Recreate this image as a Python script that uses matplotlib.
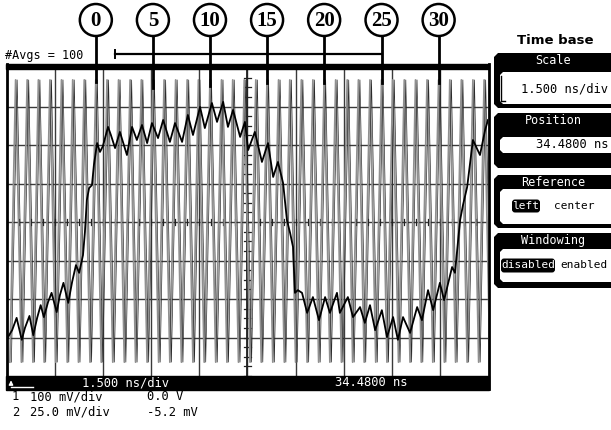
import numpy as np
import matplotlib
matplotlib.use("Agg")
import matplotlib.pyplot as plt
from matplotlib.patches import Circle, Polygon, Rectangle, FancyBboxPatch
from matplotlib import transforms

# time base / vertical settings of the scope
t_left = 34.48          # ns, reference = left
ns_per_div = 1.5
n_xdiv = 10
n_ydiv = 8

# clock trace (channel 1): peak and trough times in ns, levels in divisions
clock_high_ns = [34.75, 35.11, 35.46, 35.82, 36.18, 36.53, 36.89, 37.25, 37.60, 37.96,
                 38.32, 38.67, 39.03, 39.38, 39.74, 40.10, 40.45, 40.81, 41.17, 41.52,
                 41.88, 42.24, 42.59, 42.95, 43.30, 43.66, 44.02, 44.37, 44.73, 45.09,
                 45.44, 45.80, 46.16, 46.51, 46.87, 47.22, 47.58, 47.94, 48.29, 48.65,
                 49.01, 49.36]
clock_low_ns = [34.57, 34.93, 35.29, 35.64, 36.00, 36.36, 36.71, 37.07, 37.42, 37.78,
                38.14, 38.49, 38.85, 39.21, 39.56, 39.92, 40.28, 40.63, 40.99, 41.34,
                41.70, 42.06, 42.41, 42.77, 43.13, 43.48, 43.84, 44.20, 44.55, 44.91,
                45.26, 45.62, 45.98, 46.33, 46.69, 47.05, 47.40, 47.76, 48.12, 48.47,
                48.83, 49.19, 49.54]
clock_high_lvl = 3.69
clock_low_lvl = -3.64

# data trace (channel 2): time in ns, level in divisions
data_t = [34.51, 34.64, 34.78, 34.94, 35.04, 35.18, 35.30, 35.42, 35.53, 35.63,
          35.76, 35.87, 36.03, 36.13, 36.24, 36.39, 36.51, 36.63, 36.73, 36.85,
          36.91, 36.97, 37.04, 37.13, 37.19, 37.29, 37.38, 37.47, 37.63, 37.72,
          37.85, 38.00, 38.22, 38.38, 38.53, 38.69, 38.85, 39.00, 39.19, 39.35,
          39.56, 39.72, 39.94, 40.12, 40.28, 40.50, 40.65, 40.87, 41.03, 41.22,
          41.37, 41.53, 41.75, 41.90, 42.00, 42.21, 42.43, 42.62, 42.78, 42.93,
          43.09, 43.21, 43.31, 43.40, 43.43, 43.46, 43.55, 43.68, 43.84, 44.02,
          44.21, 44.40, 44.55, 44.77, 44.86, 45.11, 45.27, 45.49, 45.64, 45.80,
          45.96, 46.17, 46.33, 46.52, 46.67, 46.83, 47.05, 47.27, 47.42, 47.61,
          47.77, 47.98, 48.11, 48.36, 48.45, 48.61, 48.70, 48.83, 49.01, 49.23,
          49.39, 49.48]
data_v = [-2.99, -2.81, -2.49, -3.06, -2.75, -2.44, -2.94, -2.49, -2.16, -2.47,
          -2.08, -1.84, -2.34, -1.90, -1.58, -2.10, -1.56, -1.12, -1.32, -0.86,
          -0.26, 0.57, 0.88, 0.96, 1.48, 2.05, 1.82, 1.97, 2.47, 2.26,
          1.92, 2.34, 1.74, 2.47, 2.13, 2.52, 2.05, 2.57, 2.18, 2.65,
          2.08, 2.57, 2.08, 2.78, 2.26, 2.99, 2.44, 3.09, 2.60, 3.12,
          2.47, 2.91, 2.21, 2.60, 1.87, 2.34, 1.56, 2.05, 1.17, 1.56,
          1.01, 0.05, -0.29, -0.65, -1.25, -1.84, -1.77, -1.84, -2.36, -1.95,
          -2.55, -1.95, -2.36, -1.84, -2.36, -1.95, -2.47, -2.21, -2.62, -2.16,
          -2.81, -2.29, -2.99, -2.47, -3.06, -2.47, -2.88, -2.21, -2.55, -1.77,
          -2.29, -1.58, -2.03, -1.17, -1.32, 0.05, 0.44, 0.91, 2.13, 1.74,
          2.39, 2.65]

# bit markers above the screen
bit_labels = ["0", "5", "10", "15", "20", "25", "30"]
bit_ns = [37.25, 39.03, 40.81, 42.59, 44.37, 46.16, 47.94]
bit_line_end = [82, 88, 86, 83, 83, 83, 83]   # px
bracket_ns = [37.85, 46.16]

mono = "DejaVu Sans Mono"
W, H = 611, 430
fig = plt.figure(figsize=(W / 100, H / 100), dpi=100)
fig.patch.set_facecolor("white")

# screen graticule, pixel box 7..488 x 68..376
ax = fig.add_axes([7 / W, (H - 376) / H, 481 / W, 308 / H])
ax.set_xlim(t_left, t_left + n_xdiv * ns_per_div)
ax.set_ylim(-n_ydiv / 2, n_ydiv / 2)
ax.set_xticks([t_left + i * ns_per_div for i in range(1, n_xdiv)])
ax.set_yticks(range(-3, 4))
ax.tick_params(length=0, labelbottom=False, labelleft=False)
ax.grid(True, color="#3a3a3a", lw=1.0)
for s in ax.spines.values():
    s.set_visible(False)

t_mid = t_left + n_xdiv * ns_per_div / 2
ax.axvline(t_mid, color="#222222", lw=1.3)
for yy in np.arange(-4, 4.01, 0.25):
    ax.plot([t_mid - 0.1, t_mid + 0.1], [yy, yy], color="#222222", lw=0.9)
for xx in np.arange(t_left, t_left + 15.01, 0.375):
    ax.plot([xx, xx], [-0.08, 0.08], color="#222222", lw=0.9)

# clock: alternate trough / peak
ck_t, ck_v = [], []
for i, lo in enumerate(clock_low_ns):
    ck_t.append(lo)
    ck_v.append(clock_low_lvl)
    if i < len(clock_high_ns):
        ck_t.append(clock_high_ns[i])
        ck_v.append(clock_high_lvl)
ax.plot(ck_t, ck_v, color="#909090", lw=1.3, zorder=3)
shift = transforms.offset_copy(ax.transData, fig=fig, x=1.5, y=0, units="dots")
ax.plot(ck_t, ck_v, color="#2a2a2a", lw=0.5, zorder=3, transform=shift)

ax.plot(data_t, data_v, color="black", lw=1.3, zorder=4)

# overlay in pixel coordinates
ov = fig.add_axes([0, 0, 1, 1])
ov.set_xlim(0, W)
ov.set_ylim(H, 0)
ov.axis("off")

ov.add_patch(Rectangle((6, 64), 483, 5, color="black"))
ov.add_patch(Rectangle((6, 375.5), 483, 14, color="black"))
ov.plot([7, 7], [64, 389], color="black", lw=2)
ov.plot([488.5, 488.5], [64, 389], color="black", lw=2)

ov.text(5, 55, "#Avgs = 100", family=mono, size=8.5, va="center", ha="left")

bx = transforms.blended_transform_factory(ax.transData, ov.transData)
ov.plot(bracket_ns, [54, 54], color="black", lw=1.6, transform=bx)
ov.plot([bracket_ns[0]] * 2, [50, 58], color="black", lw=1.4, transform=bx)
for lab, t, y_end in zip(bit_labels, bit_ns, bit_line_end):
    ov.plot([t, t], [36, y_end], color="black", lw=2, transform=bx)
    ov.text(t, 21, lab, family="Liberation Serif", weight="bold", size=15,
            ha="center", va="center", transform=bx)
    xp = ov.transData.inverted().transform(bx.transform((t, 20)))[0]
    ov.add_patch(Circle((xp, 20), 16, fill=False, lw=1.8, ec="black"))

# status bar
ov.annotate("", xy=(11, 377.5), xytext=(11, 387),
            arrowprops=dict(arrowstyle="-|>", color="white", lw=1, mutation_scale=6))
ov.plot([11, 33], [387, 387], color="white", lw=1)
ov.text(82, 382.5, "1.500 ns/div", family=mono, size=8.7, color="white", va="center")
ov.text(335, 382.5, "34.4800 ns", family=mono, size=8.7, color="white", va="center")

ov.text(12, 397, "1", family=mono, size=8.7, va="center")
ov.text(30, 397, "100 mV/div", family=mono, size=8.7, va="center")
ov.text(147, 397, "0.0 V", family=mono, size=8.7, va="center")
ov.text(12, 412, "2", family=mono, size=8.7, va="center")
ov.text(30, 412, "25.0 mV/div", family=mono, size=8.7, va="center")
ov.text(147, 412, "-5.2 mV", family=mono, size=8.7, va="center")

# right hand menu
ov.text(555, 41, "Time base", family="DejaVu Sans", weight="bold", size=9.5,
        ha="center", va="center")


def chamfer(x0, y0, x1, y1, c, color):
    pts = [(x0 + c, y0), (x1, y0), (x1, y1), (x0 + c, y1), (x0, y1 - c), (x0, y0 + c)]
    ov.add_patch(Polygon(pts, closed=True, color=color, lw=0))


panels = [
    (53, 108, "Scale", 72, 104),
    (113, 168, "Position", 137, 153),
    (175, 228, "Reference", 189, 224),
    (233, 288, "Windowing", 249, 282),
]
for y0, y1, lab, f0, f1 in panels:
    chamfer(494, y0, 612, y1, 4, "black")
    chamfer(500, f0, 612, f1, 3, "white")
    ov.text(553, y0 + 7.5, lab, family=mono, size=8.5, color="white",
            ha="center", va="center")

ov.plot([501, 501, 505], [76, 101, 101], color="black", lw=1)
ov.text(608, 89, "1.500 ns/div", family=mono, size=8.7, ha="right", va="center")
ov.text(608, 145, "34.4800 ns", family=mono, size=8.7, ha="right", va="center")

ov.add_patch(FancyBboxPatch((512, 199.5), 28, 13, boxstyle="round,pad=0,rounding_size=3",
                            color="black", lw=0))
ov.text(526, 206, "left", family=mono, size=8, color="white", ha="center", va="center")
ov.text(574, 206, "center", family=mono, size=8, ha="center", va="center")
ov.add_patch(FancyBboxPatch((501, 258.5), 54, 14, boxstyle="round,pad=0,rounding_size=3",
                            color="black", lw=0))
ov.text(528, 265.5, "disabled", family=mono, size=8, color="white",
        ha="center", va="center")
ov.text(584, 265.5, "enabled", family=mono, size=8, ha="center", va="center")

fig.savefig("out.png", dpi=100)
